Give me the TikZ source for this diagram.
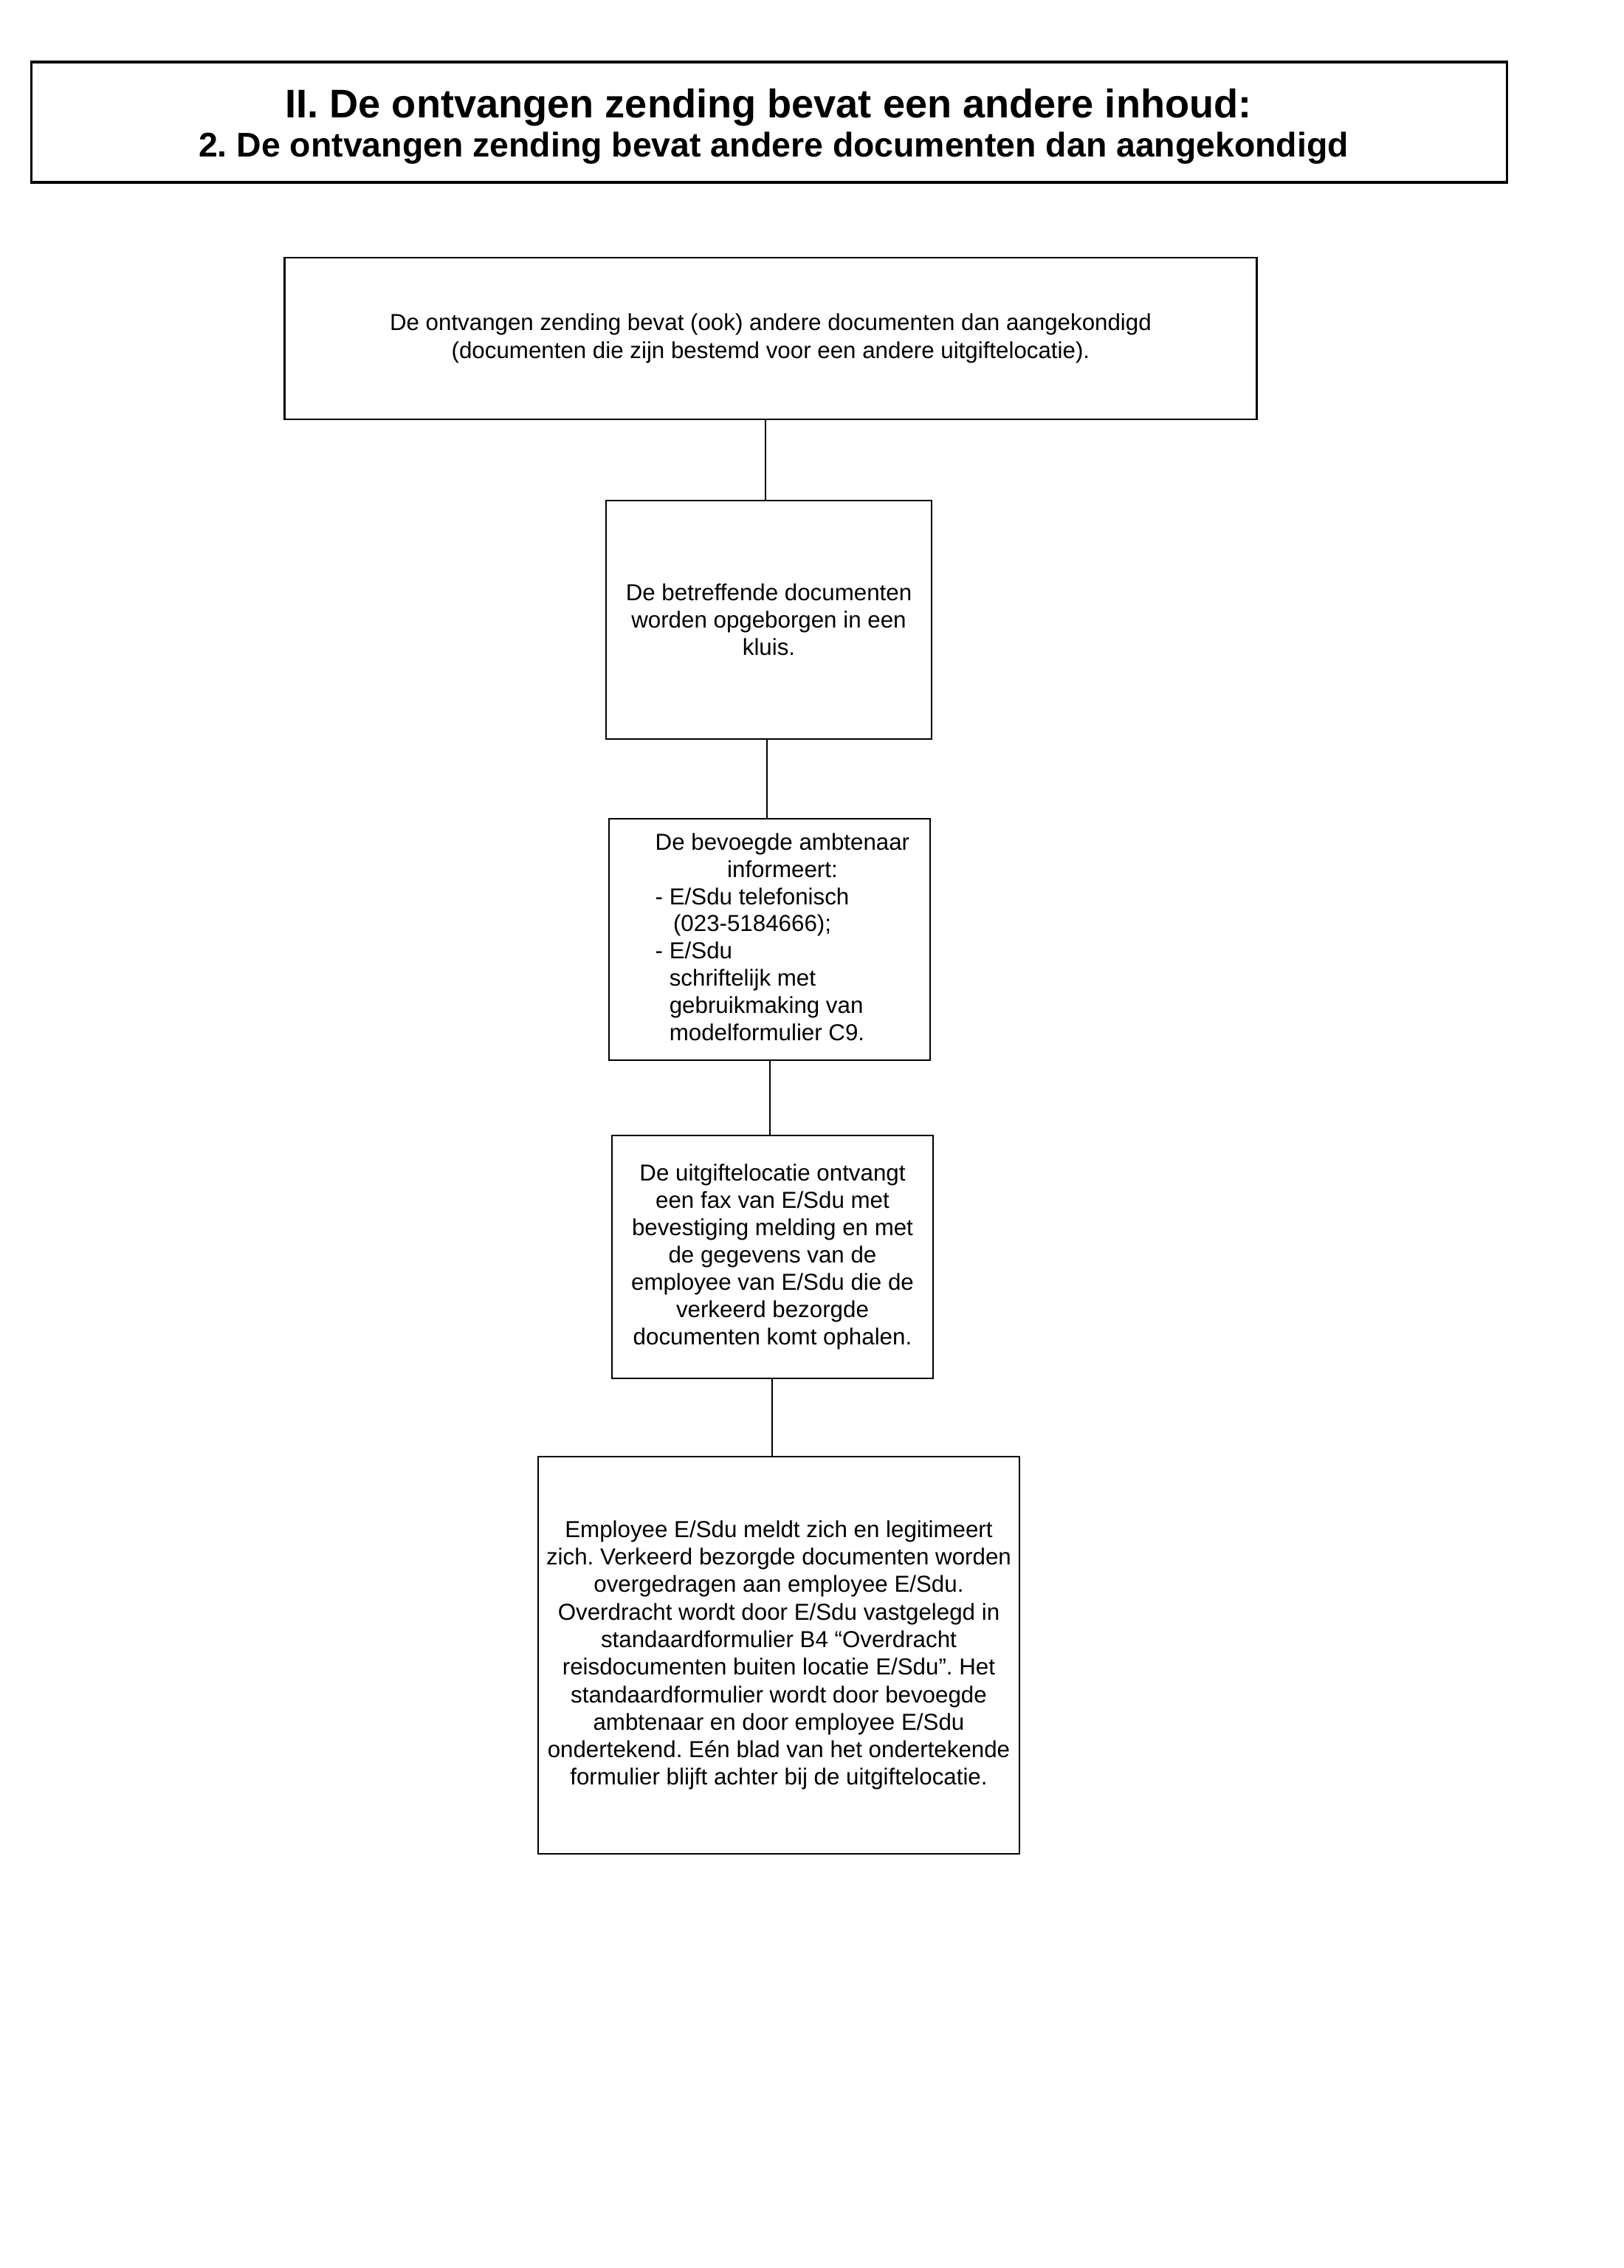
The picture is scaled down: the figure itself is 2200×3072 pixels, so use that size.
\documentclass[tikz,border=0pt]{standalone}
\usepackage{fontspec}
\setmainfont{Liberation Sans}
\frenchspacing
\begin{document}
\begin{tikzpicture}[x=0.01cm,y=-0.01cm,
  box/.style={draw=black, line width=0.7pt, rectangle, inner sep=0pt, align=center,
    font=\fontsize{8.9}{10.6}\selectfont},
  link/.style={draw=black, line width=0.7pt}]
\useasboundingbox (0,0) rectangle (2200,3072);
\fill[white] (0,0) rectangle (2200,3072);

% title
\node[draw=black, line width=0.9pt, minimum width=19.98cm, minimum height=1.63cm, inner sep=0pt] (title) at (1042,165.5) {};
\node[font=\fontsize{15.4}{17}\selectfont\bfseries, inner sep=0pt] (title1) at (1041,146) {II. De ontvangen zending bevat een andere inhoud:};
\node[font=\fontsize{13.2}{15}\selectfont\bfseries, inner sep=0pt] (title2) at (1048,201) {2. De ontvangen zending bevat andere documenten dan aangekondigd};

% boxes
\node[box, minimum width=13.16cm, minimum height=2.19cm] (b1) at (1044,458.5)
  {De ontvangen zending bevat (ook) andere documenten dan aangekondigd\\
   (documenten die zijn bestemd voor een andere uitgiftelocatie).};

\node[box, minimum width=4.41cm, minimum height=3.23cm] (b2) at (1041.5,839.5)
  {De betreffende documenten\\worden opgeborgen in een\\kluis.};

\node[box, minimum width=4.35cm, minimum height=3.27cm] (b3) at (1042.5,1272.5) {};
\node[anchor=west, inner sep=0pt, font=\fontsize{8.9}{10.5}\selectfont] (t3) at (887,1273)
  {\begin{tabular}{@{}l@{}}
   \multicolumn{1}{@{}c@{}}{De bevoegde ambtenaar}\\
   \multicolumn{1}{@{}c@{}}{informeert:}\\
   - E/Sdu telefonisch\\
   \phantom{- }\,(023-5184666);\\
   - E/Sdu\\
   \phantom{- }schriftelijk met\\
   \phantom{- }gebruikmaking van\\
   \phantom{- }modelformulier C9.
   \end{tabular}};

\node[box, minimum width=4.35cm, minimum height=3.29cm, font=\fontsize{8.9}{10.5}\selectfont] (b4) at (1046.5,1702.5)
  {De uitgiftelocatie ontvangt\\een fax van E/Sdu met\\bevestiging melding en met\\de gegevens van de\\employee van E/Sdu die de\\verkeerd bezorgde\\documenten komt ophalen.};

\node[box, minimum width=6.52cm, minimum height=5.38cm] (b5) at (1055,2242)
  {Employee E/Sdu meldt zich en legitimeert\\
   zich. Verkeerd bezorgde documenten worden\\
   overgedragen aan employee E/Sdu.\\
   Overdracht wordt door E/Sdu vastgelegd in\\
   standaardformulier B4 “Overdracht\\
   reisdocumenten buiten locatie E/Sdu”. Het\\
   standaardformulier wordt door bevoegde\\
   ambtenaar en door employee E/Sdu\\
   ondertekend. Eén blad van het ondertekende\\
   formulier blijft achter bij de uitgiftelocatie.};

% connectors
\draw[link] (b1.south -| 1037,0) -- (b2.north -| 1037,0);
\draw[link] (b2.south -| 1039,0) -- (b3.north -| 1039,0);
\draw[link] (b3.south -| 1043,0) -- (b4.north -| 1043,0);
\draw[link] (b4.south -| 1046,0) -- (b5.north -| 1046,0);
\end{tikzpicture}
\end{document}
